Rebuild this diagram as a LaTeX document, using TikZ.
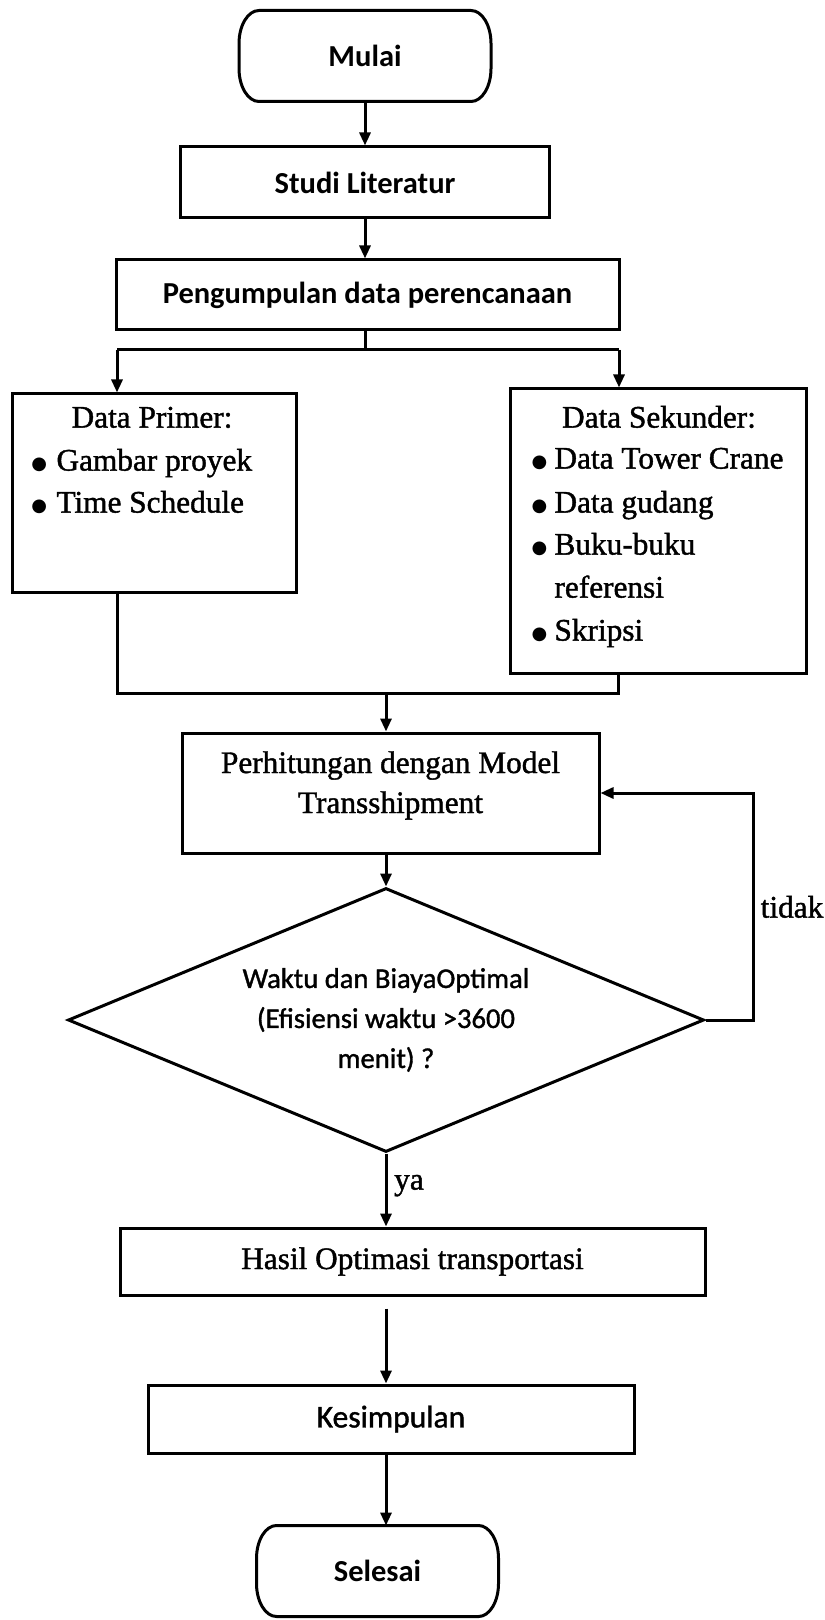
\documentclass[tikz,border=0pt]{standalone}
\usepackage{fontspec}
\setmainfont{Liberation Serif}
\newfontfamily\tmsfont{Liberation Serif}[FakeBold=1.3]
\newfontfamily\calfont{Carlito}
\newfontfamily\calfontm{Carlito}[FakeBold=1.2]
\newfontfamily\dejavu{DejaVu Sans}
\usetikzlibrary{shapes.geometric,arrows.meta}
\newcommand{\mybul}[1]{\makebox[#1][l]{\raisebox{0.3pt}{\dejavu\fontsize{9pt}{9pt}\selectfont ●}}}
\newcommand{\drawterm}[1]{%
  \draw ([xshift=10pt]#1.north west) -- ([xshift=-10pt]#1.north east)
    arc[start angle=90,end angle=0,x radius=10pt,y radius=16.5pt]
    -- ([yshift=16.5pt]#1.south east)
    arc[start angle=0,end angle=-90,x radius=10pt,y radius=16.5pt]
    -- ([xshift=10pt]#1.south west)
    arc[start angle=270,end angle=180,x radius=10pt,y radius=16.5pt]
    -- ([yshift=-16.5pt]#1.north west)
    arc[start angle=180,end angle=90,x radius=10pt,y radius=16.5pt]
    -- cycle;}
\begin{document}
\begin{tikzpicture}[x=0.5pt,y=-0.5pt,
  line width=1.5pt,
  arr/.style={-{Triangle[length=6.5pt,width=5.5pt]}},
  box/.style={draw, rectangle, inner sep=0pt, align=center},
  term/.style={rectangle, inner sep=0pt},
  tms/.style={font=\tmsfont\fontsize{15.65pt}{20pt}\selectfont, inner sep=0pt},
  calb/.style={font=\calfont\bfseries\fontsize{15.25pt}{19pt}\selectfont},
  calr/.style={font=\calfontm\fontsize{14.3pt}{20pt}\selectfont},
  calk/.style={font=\calfontm\fontsize{15.8pt}{19pt}\selectfont}]
\path[use as bounding box, fill=white] (0,0) rectangle (824,1620);

% top column
\node[term, calb, minimum width=124.5pt, minimum height=44pt] (mulai) at (365,56) {Mulai};
\drawterm{mulai}
\node[box, calb, minimum width=184.5pt, minimum height=35.5pt] (studi) at (365,182.5) {Studi Literatur};
\node[box, calb, minimum width=251.5pt, minimum height=35pt] (kumpul) at (367.5,295) {Pengumpulan data perencanaan};
\draw[arr] (mulai) -- (studi);
\draw[arr] (studi.south) -- (studi.south |- kumpul.north);

% data boxes
\node[box, minimum width=142pt, minimum height=99pt] (primer) at (154,493) {};
\node[box, minimum width=148pt, minimum height=142pt] (sekunder) at (658,531) {};

\node[tms, anchor=mid] (primerT) at (152,423) {Data Primer:};
\node[tms, anchor=mid west] (primer1) at (30,466) {\mybul{12.5pt}Gambar proyek};
\node[tms, anchor=mid west] (primer2) at (30,508) {\mybul{12.5pt}Time Schedule};

\node[tms, anchor=mid] (sekT) at (659,423) {Data Sekunder:};
\node[tms, anchor=mid west] (sek1) at (530,464) {\mybul{11.5pt}Data Tower Crane};
\node[tms, anchor=mid west] (sek2) at (530,508) {\mybul{11.5pt}Data gudang};
\node[tms, anchor=mid west] (sek3) at (530,550) {\mybul{11.5pt}Buku-buku};
\node[tms, anchor=mid west] (sek4) at (553,593) {referensi};
\node[tms, anchor=mid west] (sek5) at (530,636) {\mybul{11.5pt}Skripsi};

% split
\coordinate (sL) at (117,350);
\coordinate (sR) at (619,350);
\draw (studi.south |- kumpul.south) -- (studi.south |- sL);
\draw (sL) -- (sR);
\draw[arr] (sL) -- (sL |- primer.north);
\draw[arr] (sR) -- (sR |- sekunder.north);

% join
\coordinate (jL) at (117,693);
\coordinate (jR) at (618,693);
\coordinate (jM) at (386,693);
\draw (primer.south -| jL) -- (jL) -- (jR) -- (sekunder.south -| jR);

\node[box, tms, minimum width=208.5pt, minimum height=60pt] (perhit) at (390.5,793)
  {\begin{tabular}{@{}c@{}}Perhitungan dengan Model\\Transshipment\\[8pt]\end{tabular}};
\draw[arr] (jM) -- (jM |- perhit.north);

\node[draw, diamond, aspect=2.4, inner sep=0pt, minimum width=318pt, minimum height=132pt,
  calr, align=center] (dec) at (386,1020)
  {Waktu dan BiayaOptimal\\(Efisiensi waktu >3600\\menit) ?};
\draw[arr] (perhit.south -| dec.north) -- (dec.north);

\coordinate (loopC) at (753,1020);
\draw[arr] (dec.east) -- (loopC) |- (perhit.east);
\node[tms, anchor=mid] (tidak) at (792,913) {tidak};

\node[box, tms, minimum width=292.5pt, minimum height=33.5pt] (hasil) at (412.5,1261.5) {Hasil Optimasi transportasi};
\draw[arr] (dec.south) -- (dec.south |- hasil.north);
\node[tms, anchor=mid] (ya) at (409,1185) {ya};

\node[box, calk, minimum width=243pt, minimum height=34pt] (kesim) at (391,1419) {Kesimpulan};
\draw[arr, shorten <=6pt] (dec.south |- hasil.south) -- (dec.south |- kesim.north);

\node[term, calb, minimum width=119.5pt, minimum height=44pt] (selesai) at (377.5,1571) {Selesai};
\drawterm{selesai}
\draw[arr] (dec.south |- kesim.south) -- (dec.south |- selesai.north);
\end{tikzpicture}
\end{document}
